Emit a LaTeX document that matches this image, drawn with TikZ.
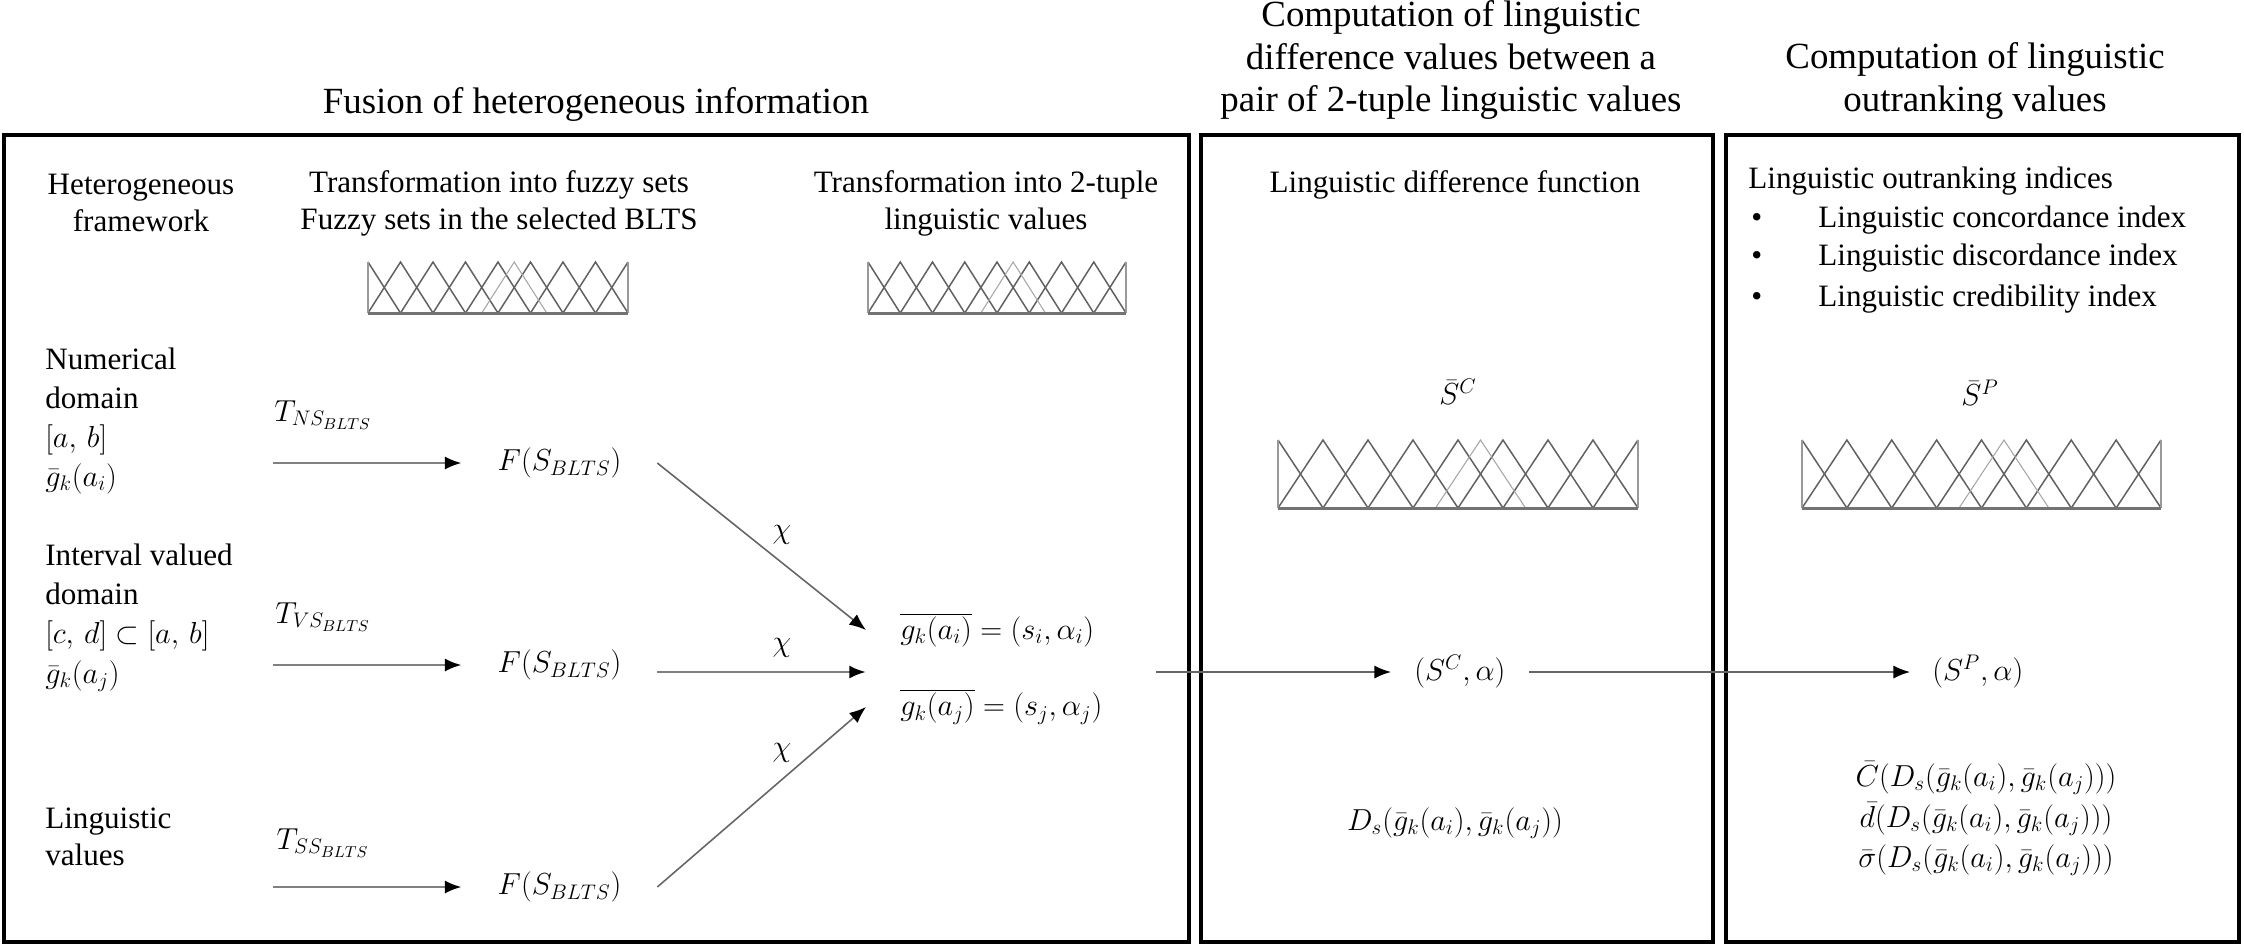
\documentclass[tikz,border=0pt]{standalone}
\usepackage{fontspec}
\setmainfont{Liberation Serif}
\usetikzlibrary{arrows.meta}
\newcommand{\fuzzyplot}[4]{%
  \begin{scope}[shift={(#1,#2)}]
    \foreach \k in {1,...,7}{\draw[fzline] ({(\k-1)*#3/8},#4) -- ({\k*#3/8},0) -- ({(\k+1)*#3/8},#4);}
    \draw[fzline] (0,0) -- ({#3/8},#4);
    \draw[fzline] ({7*#3/8},#4) -- (#3,0);
    \draw[fzlight] ({3.5*#3/8},#4) -- ({4.5*#3/8},0) -- ({5.5*#3/8},#4);
    \draw[fzside] (0,0) -- (0,#4) (#3,0) -- (#3,#4);
    \draw[fzbase] (0,#4) -- (#3,#4);
  \end{scope}}
\tikzset{
  box/.style={draw=black, line width=2.1pt},
  hdr/.style={font=\fontsize{21}{24.4}\selectfont, align=center, inner sep=0pt},
  txt/.style={font=\fontsize{17.7}{21}\selectfont, inner sep=0pt},
  lft/.style={txt, anchor=mid west},
  fzline/.style={draw=black!62, line width=0.85pt},
  fzlight/.style={draw=black!35, line width=0.6pt},
  fzside/.style={draw=black!40, line width=1.2pt},
  fzbase/.style={draw=black!55, line width=1.7pt},
  arrthick/.style={draw=black!50, line width=1.6pt, -{Latex[length=9.5pt,width=7.5pt,color=black]}},
  arrthin/.style={draw=black!60, line width=0.9pt, -{Latex[length=9.5pt,width=7.5pt,color=black]}},
  fnode/.style={txt, minimum width=3.9cm},
}
\begin{document}
\begin{tikzpicture}[x=0.02cm, y=-0.02cm]
\useasboundingbox (0,0) rectangle (2244,947);
% boxes
\draw[box] (4,135) rectangle (1189,942);
\draw[box] (1201,135) rectangle (1713,942);
\draw[box] (1726,135) rectangle (2239,942);
% headers
\node[hdr] (t1) at (596,104) {Fusion of heterogeneous information};
\node[hdr] (t2) at (1451,60) {Computation of linguistic\\difference values between a\\pair of 2-tuple linguistic values};
\node[hdr] (t3) at (1975,81) {Computation of linguistic\\outranking values};
% inner headers
\node[txt, align=center] (h1) at (141,203) {Heterogeneous\\framework};
\node[txt, align=center] (h2) at (499,203) {Transformation into fuzzy sets\\Fuzzy sets in the selected BLTS};
\node[txt, align=center] (h3) at (986,203) {Transformation into 2-tuple\\linguistic values};
\node[txt] (h4) at (1455,185) {Linguistic difference function};
\node[lft] (h5) at (1748,184) {Linguistic outranking indices};
\node[lft] (b1) at (1751,223) {\textbullet};
\node[lft] (b2) at (1751,261) {\textbullet};
\node[lft] (b3) at (1751,302) {\textbullet};
\node[lft] (i1) at (1818,223) {Linguistic concordance index};
\node[lft] (i2) at (1818,261) {Linguistic discordance index};
\node[lft] (i3) at (1818,302) {Linguistic credibility index};
% fuzzy plots
\fuzzyplot{368}{262}{260}{51}
\fuzzyplot{868}{262}{258}{51}
\fuzzyplot{1278}{440}{360}{68}
\fuzzyplot{1802}{440}{359}{68}
\node[txt] (SCbar) at (1458,392) {$\bar{S}^{C}$};
\node[txt] (SPbar) at (1980,393) {$\bar{S}^{P}$};
% left column
\node[lft] (n1) at (45,365) {Numerical};
\node[lft] (n2) at (45,404) {domain};
\node[lft] (n3) at (45,443) {$[a,\,b]$};
\node[lft] (n4) at (45,482) {$\bar{g}_k(a_i)$};
\node[lft] (v1) at (45,561) {Interval valued};
\node[lft] (v2) at (45,600) {domain};
\node[lft] (v3) at (45,639) {$[c,\,d]\subset[a,\,b]$};
\node[lft] (v4) at (45,679) {$\bar{g}_k(a_j)$};
\node[lft] (l1) at (45,824) {Linguistic};
\node[lft] (l2) at (45,861) {values};
% transformation labels
\node[txt] (T1) at (323,415) {$T_{NS_{BLTS}}$};
\node[txt] (T2) at (323,617) {$T_{VS_{BLTS}}$};
\node[txt] (T3) at (323,843) {$T_{SS_{BLTS}}$};
% fuzzy set nodes
\node[fnode] (F1) at (559.5,463) {$F(S_{BLTS})$};
\node[fnode] (F2) at (559.5,665) {$F(S_{BLTS})$};
\node[fnode] (F3) at (559.5,887) {$F(S_{BLTS})$};
\coordinate (s1) at (273,463);
\coordinate (s2) at (273,665);
\coordinate (s3) at (273,887);
\draw[arrthick] (s1) -- (F1.west);
\draw[arrthick] (s2) -- (F2.west);
\draw[arrthick] (s3) -- (F3.west);
% 2-tuple values
\node[txt, anchor=west, inner xsep=0.68cm] (gi) at (866,630) {$\overline{g_k(a_i)} = (s_i, \alpha_i)$};
\node[txt, anchor=west, inner xsep=0.68cm] (gj) at (866,707) {$\overline{g_k(a_j)} = (s_j, \alpha_j)$};
\coordinate (jn) at (866,672);
\draw[arrthin] (F1.east) -- (gi.west);
\draw[arrthick] (F2.east |- jn) -- (jn);
\draw[arrthin] (F3.east) -- (gj.west);
\node[txt] (chi1) at (782,535) {$\chi$};
\node[txt] (chi2) at (782,648) {$\chi$};
\node[txt] (chi3) at (782,753) {$\chi$};
% outputs
\node[txt, anchor=west, inner xsep=0.46cm] (SC) at (1391,672) {$(S^{C}, \alpha)$};
\node[txt, anchor=west, inner xsep=0.44cm] (SP) at (1910,672) {$(S^{P}, \alpha)$};
\coordinate (ls) at (1156,672);
\draw[arrthin] (ls) -- (SC.west);
\draw[arrthin] (SC.east) -- (SP.west);
\node[txt] (Ds) at (1455,823) {$D_s(\bar{g}_k(a_i), \bar{g}_k(a_j))$};
\node[txt] (C1) at (1986,778) {$\bar{C}(D_s(\bar{g}_k(a_i), \bar{g}_k(a_j)))$};
\node[txt] (C2) at (1986,819) {$\bar{d}(D_s(\bar{g}_k(a_i), \bar{g}_k(a_j)))$};
\node[txt] (C3) at (1986,860) {$\bar{\sigma}(D_s(\bar{g}_k(a_i), \bar{g}_k(a_j)))$};
\end{tikzpicture}
\end{document}
